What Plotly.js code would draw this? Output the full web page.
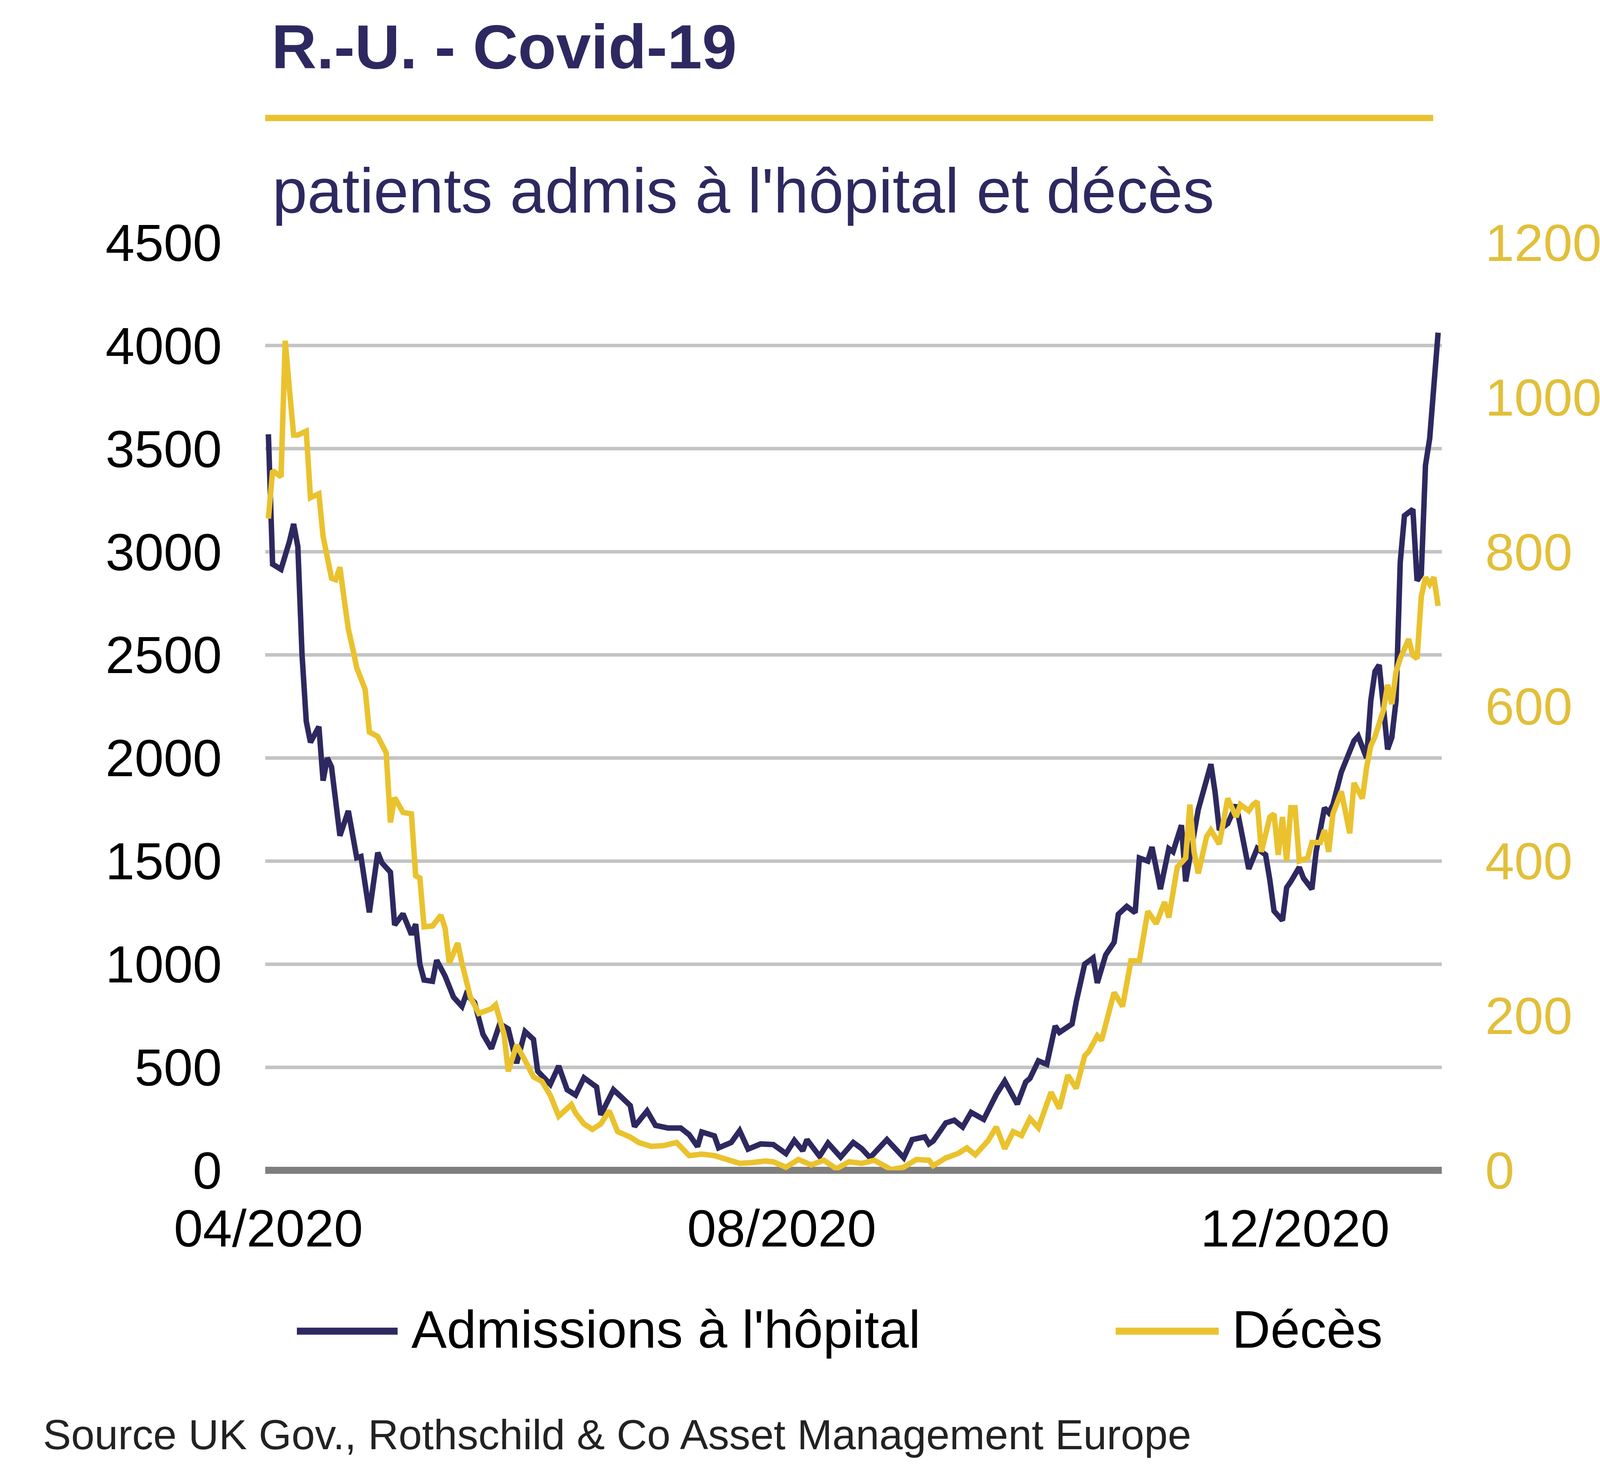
<!DOCTYPE html>
<html>
<head>
<meta charset="utf-8">
<script src="https://cdn.plot.ly/plotly-3.0.1.min.js"></script>
<style>
  html, body { margin: 0; padding: 0; background: #fff; }
  #chart { width: 4224px; height: 3776px; }
</style>
</head>
<body>
<div id="chart"></div>
<script>
// UK hospital admissions and deaths, days counted from 1 April 2020
const admDays = [0,1,3,4,5,6,7,8,9,10,12,13,14,15,17,19,21,22,24,26,27,29,30,32,34,35,36,37,39,40,42,44,46,47,49,51,53,55,57,59,61,63,64,67,69,71,73,75,78,79,82,84,86,87,90,92,95,98,100,102,103,106,107,110,112,114,117,120,123,125,127,128,131,133,136,139,141,143,147,151,153,156,157,158,161,163,165,167,170,173,175,178,180,181,183,185,186,187,188,189,191,192,194,196,197,199,201,202,204,206,207,209,210,212,214,215,217,218,220,221,224,225,226,228,230,231,233,235,237,238,239,241,242,243,245,246,248,249,251,252,253,255,258,259,261,262,263,264,265,266,267,268,269,270,272,273,274,275,276,277,278];
const admValues = [3570,2940,2915,2975,3050,3135,3025,2500,2178,2076,2152,1890,2000,1957,1623,1743,1516,1522,1251,1541,1491,1446,1190,1244,1143,1194,1000,923,917,1019,942,840,795,853,814,660,590,711,686,519,673,635,481,417,506,391,365,449,404,269,391,353,314,212,288,218,205,205,173,115,186,167,109,135,192,103,128,125,81,145,95,149,68,132,64,135,105,61,149,61,149,162,128,142,230,243,210,281,247,368,433,321,429,446,531,514,622,700,669,682,710,818,1000,1030,909,1045,1106,1242,1280,1250,1515,1500,1568,1364,1560,1545,1674,1401,1651,1750,1970,1833,1651,1682,1773,1667,1462,1561,1530,1409,1258,1212,1371,1401,1470,1417,1364,1545,1758,1735,1773,1932,2083,2106,2000,2278,2420,2451,2247,2042,2100,2278,2950,3175,3206,2860,2891,3420,3550,3772,4063];

const decesDays = [0,1,3,4,5,6,7,9,10,12,13,14,15,16,17,18,19,20,21,23,24,26,28,29,30,32,34,35,36,37,39,41,42,43,45,46,48,50,53,54,56,57,59,61,63,65,67,69,72,73,75,77,79,81,83,86,88,91,94,97,100,103,106,109,112,115,118,120,123,126,129,132,135,138,141,144,148,151,154,157,158,161,164,166,168,171,173,175,177,179,181,183,186,188,190,192,194,195,197,198,199,201,203,205,207,209,211,213,214,216,218,219,220,221,223,224,226,228,230,231,233,234,235,236,238,239,240,241,242,243,244,245,247,248,250,251,252,253,255,257,258,260,261,262,263,265,266,267,268,269,271,272,273,274,275,276,277,278];
const decesValues = [843,905,897,1073,1010,951,951,956,870,875,820,790,766,764,780,739,700,676,650,622,567,561,540,450,482,463,461,381,378,315,316,330,313,268,294,268,224,203,209,214,176,128,162,142,121,115,97,70,85,74,60,53,60,77,50,43,36,31,32,36,19,21,19,14,9,10,12,11,4,14,7,13,2,11,9,13,1,4,14,13,6,16,22,29,20,38,56,28,50,45,67,55,101,80,123,106,148,154,174,168,190,230,212,271,271,335,319,347,327,392,404,473,412,384,432,440,422,481,457,473,465,473,477,412,457,461,408,457,400,469,469,400,404,424,424,440,412,461,490,436,501,481,521,549,561,595,628,603,645,662,687,666,662,742,767,758,767,730];

const tickDates = ['2020-04-01', '2020-08-01', '2020-12-01'];
const tickLabels = ['04/2020', '08/2020', '12/2020'];

const NAVY = '#2d2960';
const GOLD = '#eac22e';
const FONT = 'Liberation Sans, Arial, sans-serif';

function toDates(days) {
  const start = Date.UTC(2020, 3, 1);
  return days.map(d => new Date(start + d * 864e5).toISOString().slice(0, 10));
}

const traces = [
  { type: 'scatter', mode: 'lines', name: "Admissions à l'hôpital",
    x: toDates(admDays), y: admValues, yaxis: 'y',
    line: { color: NAVY, width: 14 } },
  { type: 'scatter', mode: 'lines', name: 'Décès',
    x: toDates(decesDays), y: decesValues, yaxis: 'y2',
    line: { color: GOLD, width: 14 } }
];

const layout = {
  width: 4224, height: 3776,
  margin: { l: 679, r: 533, t: 621, b: 780 },
  paper_bgcolor: '#fff', plot_bgcolor: '#fff',
  showlegend: false,
  font: { family: FONT, color: '#000' },
  title: {
    text: '<b>R.-U. - Covid-19</b>',
    font: { family: FONT, size: 160, color: NAVY },
    x: 0.0053, xref: 'paper', xanchor: 'left',
    y: 0.9685, yref: 'container', yanchor: 'middle'
  },
  xaxis: {
    type: 'date',
    range: ['2020-03-31 06:00', '2021-01-04 21:00'],
    tickvals: tickDates, ticktext: tickLabels,
    ticks: '', showgrid: false, zeroline: false, showline: false,
    tickfont: { family: FONT, size: 134, color: '#000' },
    ticklabelstandoff: 60
  },
  yaxis: {
    range: [0, 4500], dtick: 500, tick0: 0,
    ticks: '', showline: false,
    gridcolor: '#c4c4c4', gridwidth: 9,
    zeroline: true, zerolinecolor: '#7f7f7f', zerolinewidth: 18,
    tickfont: { family: FONT, size: 134, color: '#000' },
    ticklabelstandoff: 110
  },
  yaxis2: {
    overlaying: 'y', side: 'right',
    range: [0, 1200], dtick: 200, tick0: 0,
    ticks: '', showgrid: false, zeroline: false, showline: false,
    tickfont: { family: FONT, size: 134, color: '#e2bf3a' },
    ticklabelstandoff: 110
  },
  shapes: [
    // yellow rule under the title
    { type: 'line', xref: 'paper', yref: 'paper', x0: 0, x1: 0.9927, y0: 1.1343, y1: 1.1343,
      line: { color: GOLD, width: 16 } },
    // legend samples
    { type: 'line', xref: 'paper', yref: 'paper', x0: 0.0269, x1: 0.1125, y0: -0.1734, y1: -0.1734,
      line: { color: NAVY, width: 18 } },
    { type: 'line', xref: 'paper', yref: 'paper', x0: 0.7228, x1: 0.8104, y0: -0.1734, y1: -0.1734,
      line: { color: GOLD, width: 18 } }
  ],
  annotations: [
    { text: "patients admis à l'hôpital et décès", xref: 'paper', yref: 'paper',
      x: 0.0053, y: 1.056, xanchor: 'left', yanchor: 'middle', showarrow: false,
      font: { family: FONT, size: 161, color: NAVY } },
    { text: "Admissions à l'hôpital", xref: 'paper', yref: 'paper',
      x: 0.1235, y: -0.1713, xanchor: 'left', yanchor: 'middle', showarrow: false,
      font: { family: FONT, size: 136, color: '#000' } },
    { text: 'Décès', xref: 'paper', yref: 'paper',
      x: 0.8210, y: -0.1713, xanchor: 'left', yanchor: 'middle', showarrow: false,
      font: { family: FONT, size: 136, color: '#000' } },
    { text: 'Source UK Gov., Rothschild & Co Asset Management Europe', xref: 'paper', yref: 'paper',
      x: -0.1896, y: -0.285, xanchor: 'left', yanchor: 'middle', showarrow: false,
      font: { family: FONT, size: 108, color: '#222' } }
  ]
};

Plotly.newPlot('chart', traces, layout, { staticPlot: true, displayModeBar: false });
</script>
</body>
</html>
